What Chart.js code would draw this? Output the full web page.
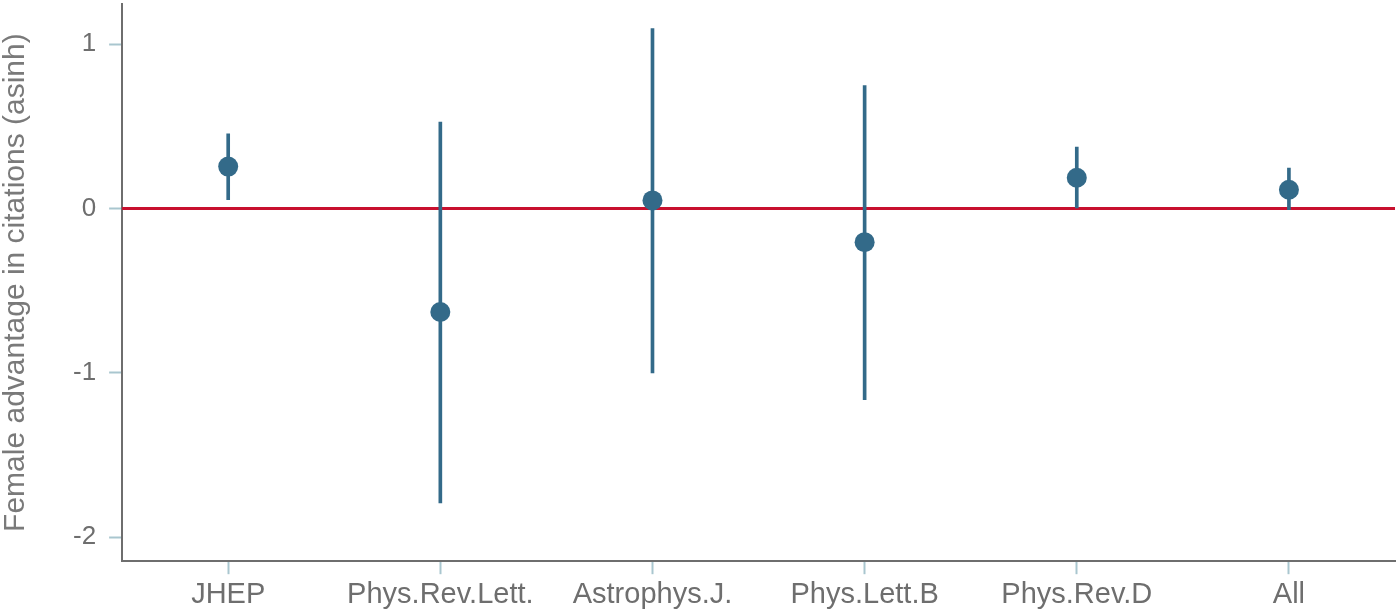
<!DOCTYPE html>
<html>
<head>
<meta charset="utf-8">
<script src="https://cdn.jsdelivr.net/npm/chart.js@4.4.1/dist/chart.umd.min.js"></script>
<style>
    html, body { margin: 0; padding: 0; background: #ffffff; }
    #wrap { width: 1400px; height: 614px; }
</style>
</head>
<body>
<div id="wrap"><canvas id="chart" width="1400" height="614"></canvas></div>
<script>
// Datos
const revistas = ['JHEP', 'Phys.Rev.Lett.', 'Astrophys.J.', 'Phys.Lett.B', 'Phys.Rev.D', 'All'];
const estimacion = [0.255, -0.630, 0.049, -0.205, 0.187, 0.114];
const limiteInf = [0.053, -1.791, -1.001, -1.163, 0.000, -0.008];
const limiteSup = [0.454, 0.525, 1.094, 0.748, 0.373, 0.245];
const ticksY = [-2, -1, 0, 1];

const AZUL = '#336a89';
const ROJO = '#c8102e';
const GRIS = '#6e6e6e';

// Línea horizontal en cero
const lineaCero = {
    id: 'lineaCero',
    beforeDatasetsDraw(chart) {
        const { ctx, chartArea, scales } = chart;
        const y = scales.y.getPixelForValue(0);
        ctx.save();
        ctx.strokeStyle = ROJO;
        ctx.lineWidth = 3;
        ctx.beginPath();
        ctx.moveTo(chartArea.left, y);
        ctx.lineTo(chartArea.right, y);
        ctx.stroke();
        ctx.restore();
    }
};

// quitar el margen extra que Chart.js reserva para las etiquetas
const sinMargen = (scale) => {
    scale.paddingTop = 0;
    scale.paddingBottom = 0;
    scale.paddingLeft = 0;
    scale.paddingRight = 0;
};

const ctx = document.getElementById('chart').getContext('2d');
new Chart(ctx, {
    data: {
        labels: revistas,
        datasets: [
            {
                type: 'line',
                label: 'Estimación',
                data: estimacion,
                showLine: false,
                pointRadius: 10,
                pointHoverRadius: 10,
                pointBackgroundColor: AZUL,
                pointBorderColor: AZUL,
                pointBorderWidth: 0,
                order: 0
            },
            {
                type: 'bar',
                label: 'IC',
                data: revistas.map((_, i) => [limiteInf[i], limiteSup[i]]),
                backgroundColor: AZUL,
                borderWidth: 0,
                barThickness: 3,
                order: 1
            }
        ]
    },
    options: {
        responsive: false,
        animation: false,
        layout: { autoPadding: false, padding: { left: -2, right: 5, top: 4, bottom: -1 } },
        plugins: {
            legend: { display: false },
            tooltip: { enabled: false }
        },
        scales: {
            x: {
                type: 'category',
                offset: true,
                afterFit: sinMargen,
                grid: {
                    offset: false,
                    drawOnChartArea: false,
                    drawTicks: true,
                    tickLength: 13,
                    tickWidth: 2,
                    tickColor: '#a9c6cf'
                },
                border: { display: true, color: GRIS, width: 2 },
                ticks: {
                    color: GRIS,
                    padding: 3,
                    maxRotation: 0,
                    font: { family: 'Liberation Sans', size: 29 }
                }
            },
            y: {
                min: -2.146,
                max: 1.244,
                afterBuildTicks: (scale) => {
                    scale.ticks = ticksY.map(v => ({ value: v }));
                },
                afterFit: sinMargen,
                grid: {
                    drawOnChartArea: false,
                    drawTicks: true,
                    tickLength: 13,
                    tickWidth: 2,
                    tickColor: '#a9c6cf'
                },
                border: { display: true, color: GRIS, width: 2 },
                ticks: {
                    color: GRIS,
                    padding: 13,
                    font: { family: 'Liberation Sans', size: 26 },
                    callback: (v) => String(v)
                },
                title: {
                    display: true,
                    text: 'Female advantage in citations (asinh)',
                    color: '#7a7a7a',
                    padding: { top: 0, bottom: 26 },
                    font: { family: 'Liberation Sans', size: 30 }
                }
            }
        }
    },
    plugins: [lineaCero]
});
</script>
</body>
</html>
